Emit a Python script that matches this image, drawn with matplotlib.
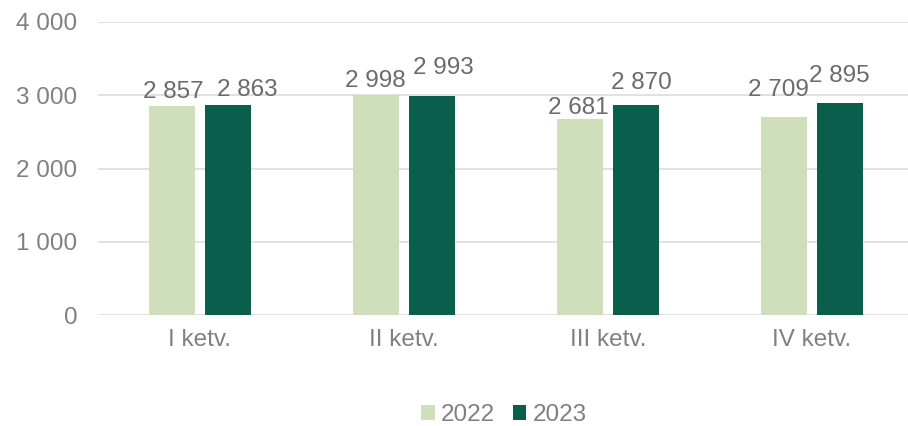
import matplotlib
matplotlib.use("Agg")
import matplotlib.pyplot as plt
import numpy as np
from matplotlib.patches import Patch

categories = ["I ketv.", "II ketv.", "III ketv.", "IV ketv."]
series_names = ["2022", "2023"]
values_2022 = [2857, 2998, 2681, 2709]
values_2023 = [2863, 2993, 2870, 2895]
yticks = [0, 1000, 2000, 3000, 4000]
ytick_labels = ["0", "1 000", "2 000", "3 000", "4 000"]

# label offsets in pixels (dx, dy) to mimic the reference placement
offsets_2022 = [(1, 3), (-1, 3), (-2, 0), (-6, 16)]
offsets_2023 = [(19, 4), (11, 17), (5, 11), (-1, 16)]

c_light = "#D0DFBB"
c_dark = "#0A5E4C"
grey = "#808080"
label_grey = "#6b6b6b"

plt.rcParams['font.family'] = ['Liberation Sans', 'DejaVu Sans']

fig = plt.figure(figsize=(9.08, 4.26), dpi=100)
ax = fig.add_axes([98/908, 1 - 315/426, 816/908, (315 - 22)/426])

x = np.arange(len(categories))
w = 46/204
gap = 10/204
b1 = ax.bar(x - (w + gap)/2, values_2022, w, color=c_light, zorder=3)
b2 = ax.bar(x + (w + gap)/2, values_2023, w, color=c_dark, zorder=3)

px2pt = 72/100
fs = 17.5
for bars, vals, offs in [(b1, values_2022, offsets_2022), (b2, values_2023, offsets_2023)]:
    for rect, v, (dx, dy) in zip(bars, vals, offs):
        ax.annotate(f"{v:,}".replace(",", " "),
                    (rect.get_x() + rect.get_width()/2, rect.get_height()),
                    xytext=(dx*px2pt, dy*px2pt), textcoords="offset points",
                    ha="center", va="bottom", fontsize=fs, color=label_grey, zorder=4)

ax.set_xlim(-0.5, len(categories) - 0.5)
ax.set_ylim(0, 4000)
ax.set_yticks(yticks)
ax.set_yticklabels(ytick_labels)
ax.set_xticks(x)
ax.set_xticklabels(categories)
ax.tick_params(axis='y', length=0, pad=15, labelsize=fs, labelcolor=grey)
ax.tick_params(axis='x', length=0, pad=10, labelsize=fs, labelcolor=grey)
ax.grid(axis='y', color="#d9d9d9", linewidth=1.1, zorder=0)
for s in ax.spines.values():
    s.set_visible(False)

handles = [Patch(facecolor=c_light, edgecolor='none'), Patch(facecolor=c_dark, edgecolor='none')]
fig.legend(handles, series_names, loc='center', bbox_to_anchor=(0.555, 0.025), ncol=2,
           frameon=False, fontsize=fs, labelcolor=grey, handlelength=0.55, handleheight=0.55,
           handletextpad=0.25, columnspacing=0.75)

fig.savefig("out.png", dpi=100)
